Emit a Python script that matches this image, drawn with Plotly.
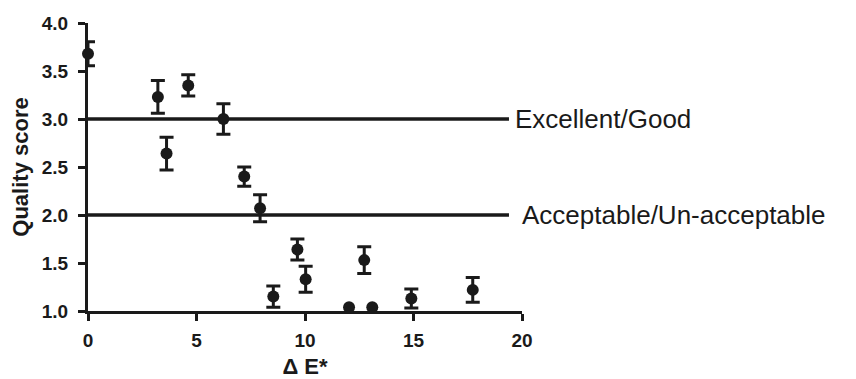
import plotly.graph_objects as go

# Data
delta_e = [0, 3.22, 3.62, 4.62, 6.24, 7.2, 7.93, 8.54, 9.65, 10.03, 12.73, 14.9, 17.73]
quality = [3.68, 3.23, 2.64, 3.35, 3.0, 2.40, 2.07, 1.15, 1.64, 1.33, 1.53, 1.13, 1.22]
quality_err = [0.125, 0.17, 0.17, 0.11, 0.16, 0.10, 0.14, 0.11, 0.11, 0.135, 0.14, 0.10, 0.13]

delta_e_noerr = [12.03, 13.1]
quality_noerr = [1.04, 1.04]

thresholds = [3.0, 2.0]
threshold_labels = ["Excellent/Good", "Acceptable/Un-acceptable"]
threshold_end = 19.4
label_x = [19.6, 19.9]

x_ticks = [0, 5, 10, 15, 20]
y_ticks = [1.0, 1.5, 2.0, 2.5, 3.0, 3.5, 4.0]

INK = "#1a1a1a"

fig = go.Figure()

for t in thresholds:
    fig.add_shape(type="line", xref="x", yref="y", x0=0, x1=threshold_end, y0=t, y1=t,
                  line=dict(color=INK, width=3.5), layer="below")

fig.add_trace(go.Scatter(
    x=delta_e, y=quality, mode="markers",
    marker=dict(color=INK, size=12),
    error_y=dict(type="data", array=quality_err, visible=True, color=INK, thickness=3, width=7),
    cliponaxis=False, showlegend=False))

fig.add_trace(go.Scatter(
    x=delta_e_noerr, y=quality_noerr, mode="markers",
    marker=dict(color=INK, size=12),
    cliponaxis=False, showlegend=False))

for t, lab, lx in zip(thresholds, threshold_labels, label_x):
    fig.add_annotation(x=lx, y=t, xref="x", yref="y", text=lab, showarrow=False,
                       xanchor="left", yanchor="middle",
                       font=dict(family="Liberation Sans, Arial", size=26, color=INK))

tick_font = dict(family="Liberation Sans, Arial", size=19, color=INK, weight="bold")
title_font = dict(family="Liberation Sans, Arial", size=22, color=INK, weight="bold")

fig.update_xaxes(range=[0, 20], tickvals=x_ticks, ticktext=[str(v) for v in x_ticks],
                 showline=True, linewidth=3, linecolor=INK, ticks="outside", ticklen=7,
                 tickwidth=3, tickcolor=INK, showgrid=False, zeroline=False,
                 ticklabelstandoff=3,
                 tickfont=tick_font, title=dict(text="Δ E*", font=title_font, standoff=10))
fig.update_yaxes(range=[1, 4], tickvals=y_ticks, ticktext=[f"{v:.1f}" for v in y_ticks],
                 showline=True, linewidth=3, linecolor=INK, ticks="outside", ticklen=7,
                 tickwidth=3, tickcolor=INK, showgrid=False, zeroline=False,
                 ticklabelstandoff=6,
                 tickfont=tick_font, title=dict(text="Quality score", font=title_font, standoff=8))

# page body has an 8px default margin, so the figure is sized to fit the window
fig.update_layout(width=848, height=371, margin=dict(l=80, r=334, t=15, b=68, autoexpand=False),
                  plot_bgcolor="white", paper_bgcolor="white")

fig.write_html("out.html")
